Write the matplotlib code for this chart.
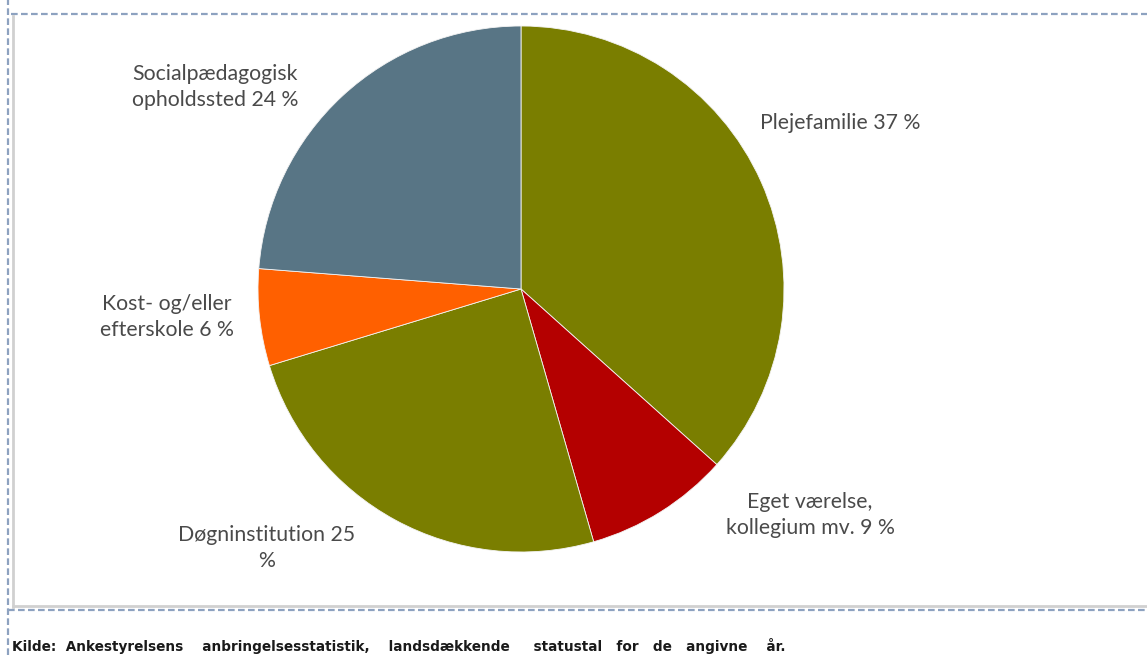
import matplotlib.pyplot as plt
from matplotlib.lines import Line2D

categories = ['Plejefamilie', 'Eget værelse,\nkollegium mv.', 'Døgninstitution',
              'Kost- og/eller\nefterskole', 'Socialpædagogisk\nopholdssted']
shares = [37, 9, 25, 6, 24]
colors = ['#7a7e00', '#b40000', '#7a7e00', '#ff6000', '#587585']
source = 'Kilde:  Ankestyrelsens    anbringelsesstatistik,    landsdækkende     statustal   for   de   angivne    år.'

W, H = 1147, 655
fig = plt.figure(figsize=(W / 100, H / 100), dpi=100)
ax = fig.add_axes([0, 0, 1, 1])
ax.set_xlim(0, W)
ax.set_ylim(0, H)
ax.set_aspect('equal')
ax.axis('off')

# pie in pixel coordinates (y measured from bottom)
ax.pie(shares, colors=colors, startangle=90, counterclock=False,
       center=(521, H - 289), radius=263,
       wedgeprops=dict(linewidth=0.6, edgecolor='#f4f4f4'))
ax.set_xlim(0, W)
ax.set_ylim(0, H)

labels = [f'{c} {v} %' for c, v in zip(categories, shares)]
labels[2] = f'{categories[2]} {shares[2]}\n%'
label_pos = [(840, 123), (810, 515), (267, 548), (167, 317), (215, 87)]
for txt, (x, y) in zip(labels, label_pos):
    ax.text(x, H - y, txt, ha='center', va='center', fontsize=15.3,
            family='Lato', color='#4a4a4a', linespacing=1.35)

# frame around the chart
dash = dict(color='#8da2c0', lw=1.6, ls=(0, (3, 1.5)))
ax.add_line(Line2D([8, 8], [0, H], **dash))
ax.add_line(Line2D([11, W], [H - 14, H - 14], **dash))
ax.add_line(Line2D([8, W], [H - 610, H - 610], **dash))
ax.add_line(Line2D([13, 13], [H - 607, H - 16], color='#d0d0d0', lw=2))
ax.add_line(Line2D([13, W], [H - 606, H - 606], color='#d0d0d0', lw=2))

ax.text(12, H - 646, source, ha='left', va='center', fontsize=9.8,
        family='DejaVu Sans', fontweight='bold', color='#1a1a1a')

fig.savefig('out.png', dpi=100)
